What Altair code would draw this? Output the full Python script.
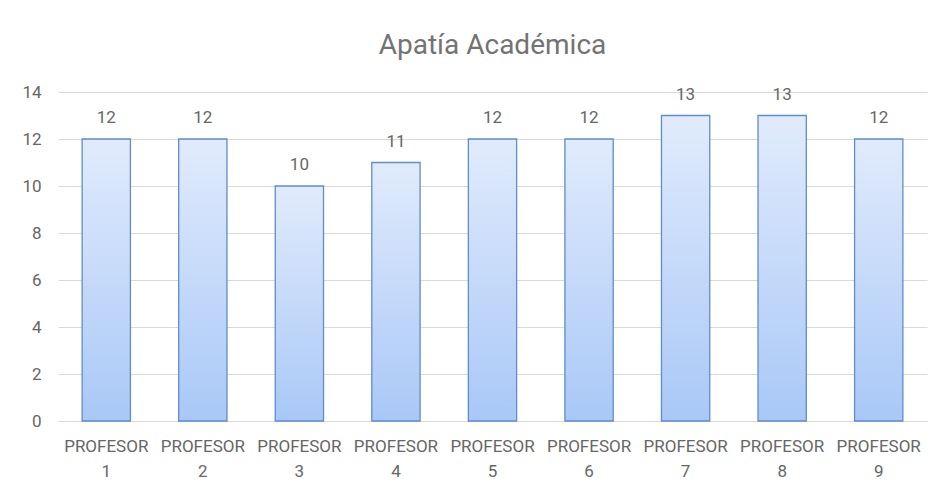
import altair as alt
import pandas as pd

categories = ["PROFESOR 1", "PROFESOR 2", "PROFESOR 3", "PROFESOR 4", "PROFESOR 5",
              "PROFESOR 6", "PROFESOR 7", "PROFESOR 8", "PROFESOR 9"]
values = [12, 12, 10, 11, 12, 12, 13, 13, 12]
y_ticks = [0, 2, 4, 6, 8, 10, 12, 14]

df = pd.DataFrame({"cat": categories, "val": values})

FONT = "Roboto"
LABEL_COLOR = "#666666"

x = alt.X("cat:N", sort=categories, title=None,
          scale=alt.Scale(paddingInner=0.5, paddingOuter=0.25),
          axis=alt.Axis(labelAngle=0, labelExpr="split(datum.label, ' ')",
                        labelFont=FONT, labelFontSize=17, labelColor=LABEL_COLOR,
                        labelPadding=17, labelLineHeight=25, ticks=False,
                        domainColor="#d9d9d9", grid=False))
y = alt.Y("val:Q", title=None,
          scale=alt.Scale(domain=[0, 14], nice=False),
          axis=alt.Axis(values=y_ticks, labelFont=FONT, labelFontSize=17,
                        labelColor=LABEL_COLOR, labelPadding=17, ticks=False,
                        domain=False, gridColor="#d9d9d9"))

bars = alt.Chart(df).mark_bar(
    color=alt.Gradient(gradient="linear", x1=0, y1=0, x2=0, y2=1,
                       stops=[alt.GradientStop(offset=0, color="#e1ebfc"),
                              alt.GradientStop(offset=1, color="#a9c8f7")]),
    stroke="#5f8ccd", strokeWidth=1.3
).encode(x=x, y=y)

labels = alt.Chart(df).mark_text(
    baseline="alphabetic", dy=-16, font=FONT, fontSize=17, color=LABEL_COLOR
).encode(x=alt.X("cat:N", sort=categories), y="val:Q", text="val:Q")

chart = (bars + labels).properties(
    width=869, height=329,
    title=alt.TitleParams("Apatía Académica", font=FONT, fontSize=28,
                          fontWeight="normal", color="#737373", offset=23,
                          anchor="middle"),
    autosize=alt.AutoSizeParams(type="none"),
    padding={"left": 50, "top": 84, "right": 7, "bottom": 63},
).configure_view(stroke=None)

chart.save("out.html", embed_options={"renderer": "svg", "actions": False})
